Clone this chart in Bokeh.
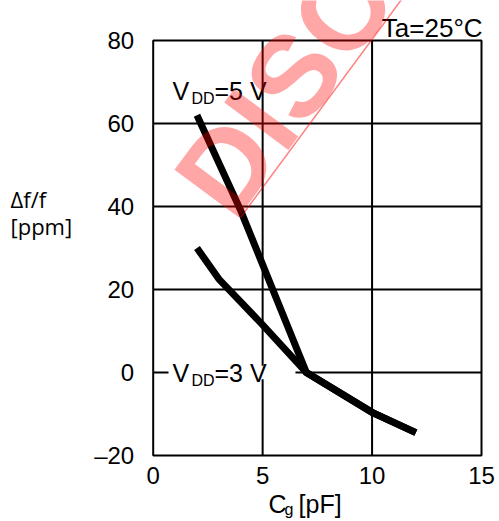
from bokeh.plotting import figure
from bokeh.models import Range1d, FixedTicker, Label, Arrow, LinearAxis
from bokeh.embed import file_html
from bokeh.resources import INLINE

# ---- data ----
x_ticks = [0, 5, 10, 15]
x_tick_labels = ["0", "5", "10", "15"]
y_ticks = [-20, 0, 20, 40, 60, 80]
y_tick_labels = ["\u201320", "0", "20", "40", "60", "80"]

cg_5v = [2, 4, 7, 10, 12]
df_5v = [62, 39, 0, -9.6, -14.5]
cg_3v = [2, 3, 5, 7, 10, 12]
df_3v = [30, 22.5, 11.5, 0, -9.6, -14.5]

FONT = "Liberation Sans"

# ---- layout (pixels) ----
W, H = 499, 521
PL, PR, PT, PB = 152.7, 481.0, 40.0, 455.0   # plot-area edges on the canvas
x0, x1 = x_ticks[0], x_ticks[-1]
y0, y1 = y_ticks[0], y_ticks[-1]
sx = (PR - PL) / (x1 - x0)
sy = (PB - PT) / (y1 - y0)
xr = Range1d(x0 - PL / sx, x1 + (W - PR) / sx)
yr = Range1d(y0 - (H - PB) / sy, y1 + PT / sy)

p = figure(width=W, height=H, x_range=xr, y_range=yr,
           output_backend="svg", toolbar_location=None,
           x_axis_location=None, y_axis_location=None,
           min_border=0, min_border_left=0, min_border_right=0,
           min_border_top=0, min_border_bottom=0)
p.outline_line_color = None
p.background_fill_color = "white"
p.border_fill_color = "white"
p.xgrid.visible = False
p.ygrid.visible = False

# axes drawn at the plot-area edges
yax = LinearAxis(fixed_location=x0, ticker=FixedTicker(ticks=y_ticks),
                 major_label_overrides={t: s for t, s in zip(y_ticks, y_tick_labels)})
xax = LinearAxis(fixed_location=y0, ticker=FixedTicker(ticks=x_ticks),
                 major_label_overrides={t: s for t, s in zip(x_ticks, x_tick_labels)})
for ax in (xax, yax):
    ax.axis_line_color = None
    ax.major_tick_line_color = None
    ax.minor_tick_line_color = None
    ax.major_tick_out = 0
    ax.major_tick_in = 0
    ax.minor_tick_out = 0
    ax.major_label_text_font = FONT
    ax.major_label_text_font_size = "24px"
    ax.major_label_text_color = "black"
xax.major_label_standoff = 11
yax.major_label_standoff = 19
p.add_layout(yax, "left")
p.add_layout(xax, "below")

# grid lines and plot frame
gx = x_ticks[1:-1]
gy = y_ticks[1:-1]
p.segment(x0=gx, y0=[y0] * len(gx), x1=gx, y1=[y1] * len(gx), line_color="black", line_width=2)
p.segment(x0=[x0] * len(gy), y0=gy, x1=[x1] * len(gy), y1=gy, line_color="black", line_width=2)
p.quad(left=[x0], right=[x1], bottom=[y0], top=[y1], fill_color=None, line_color="black", line_width=2)

# white patch behind the VDD=3 V label
p.quad(left=[0.7], right=[6.5], bottom=[-1.6], top=[1.6], fill_color="white", line_color=None)

# curves
p.line(cg_5v, df_5v, line_color="black", line_width=7, line_cap="butt", line_join="miter")
p.line(cg_3v, df_3v, line_color="black", line_width=7, line_cap="butt", line_join="miter")

def lab(x, y, text, size="25px", font=FONT, align="left"):
    p.add_layout(Label(x=x, y=y, text=text, text_font=font, text_font_size=size,
                       text_color="black", text_align=align, text_baseline="middle"))

# VDD = 5 V
lab(0.88, 67.95, "V")
lab(1.75, 66.14, "DD", size="16px")
lab(2.80, 67.95, "=5 V")
# VDD = 3 V
lab(0.88, 0.0, "V")
lab(1.75, -1.81, "DD", size="16px")
lab(2.80, 0.0, "=3 V")
# Ta
lab(15.05, 83.0, "Ta=25\u00b0C", size="26px", align="right")
# x title
lab(5.27, -31.57, "C")
lab(6.00, -33.0, "g", size="16px")
lab(6.64, -31.57, "[pF]")
# y title
lab(-6.52, 41.7, "\u0394f/f", size="22px", font="Open Sans")
lab(-6.52, 35.4, "[ppm]", size="22px", font="Open Sans")

# watermark
p.add_layout(Label(x=2.22, y=41.61, text="DISCONTINUED", angle=0.934,
                   text_font=FONT, text_font_style="bold", text_font_size="116px",
                   text_color="red", text_alpha=0.35, text_align="left",
                   text_baseline="middle", level="overlay"))
p.add_layout(Arrow(end=None, x_start=3.99, y_start=37.35, x_end=11.48, y_end=90.84,
                   line_color="red", line_alpha=0.5, line_width=1.5, level="overlay"))

open("out.html", "w").write(file_html(p, INLINE))
